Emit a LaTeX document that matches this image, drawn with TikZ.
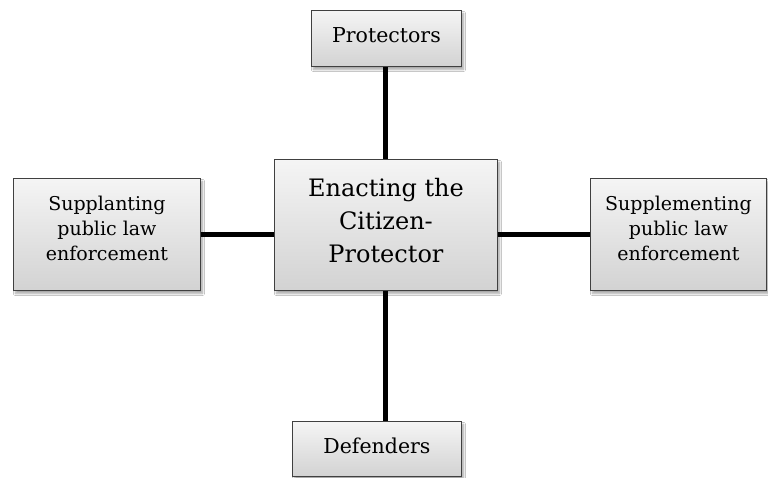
\documentclass[tikz,border=0pt]{standalone}
\usepackage{fontspec}
\setmainfont{DejaVu Serif}
\usetikzlibrary{shadows.blur}
\begin{document}
\begin{tikzpicture}[x=1pt,y=-1pt,
  box/.style={draw=black!75,line width=0.9pt,top color=gray!8,bottom color=gray!35,
    blur shadow={shadow xshift=2pt,shadow yshift=-3pt,shadow blur steps=6,shadow opacity=35},
    inner sep=0pt,anchor=north west},
  txt/.style={align=center,inner sep=0pt},
  conn/.style={line width=5pt,black}]
\useasboundingbox (0,0) rectangle (768,478);
\fill[white] (0,0) rectangle (768,478);
\node[box,minimum width=150pt,minimum height=56pt] (prot) at (311,10) {};
\node[box,minimum width=223pt,minimum height=131pt] (ctr) at (274,159) {};
\node[box,minimum width=187pt,minimum height=112pt] (left) at (13,178) {};
\node[box,minimum width=176pt,minimum height=112pt] (right) at (590,178) {};
\node[box,minimum width=169pt,minimum height=55pt] (def) at (292,421) {};
\node[txt,font=\fontsize{20.5}{24}\selectfont] (protT) at ([yshift=3pt]prot.center) {Protectors};
\node[txt,font=\fontsize{24}{34}\selectfont] (ctrT) at ([yshift=4pt]ctr.center) {Enacting the\\[-1pt]Citizen-\\[-1pt]Protector};
\node[txt,font=\fontsize{19}{26}\selectfont] (leftT) at ([yshift=6pt]left.center) {Supplanting\\[-1pt]public law\\[-1pt]enforcement};
\node[txt,font=\fontsize{19}{26}\selectfont] (rightT) at ([yshift=6pt]right.center) {Supplementing\\[-1pt]public law\\[-1pt]enforcement};
\node[txt,font=\fontsize{20.5}{24}\selectfont] (defT) at ([yshift=3pt]def.center) {Defenders};
\draw[conn] (prot.south -| 385,0) -- (ctr.north -| 385,0);
\draw[conn] (ctr.south -| 385,0) -- (def.north -| 385,0);
\draw[conn] (left.east |- 0,235) -- (ctr.west |- 0,235);
\draw[conn] (ctr.east |- 0,235) -- (right.west |- 0,235);
\end{tikzpicture}
\end{document}
